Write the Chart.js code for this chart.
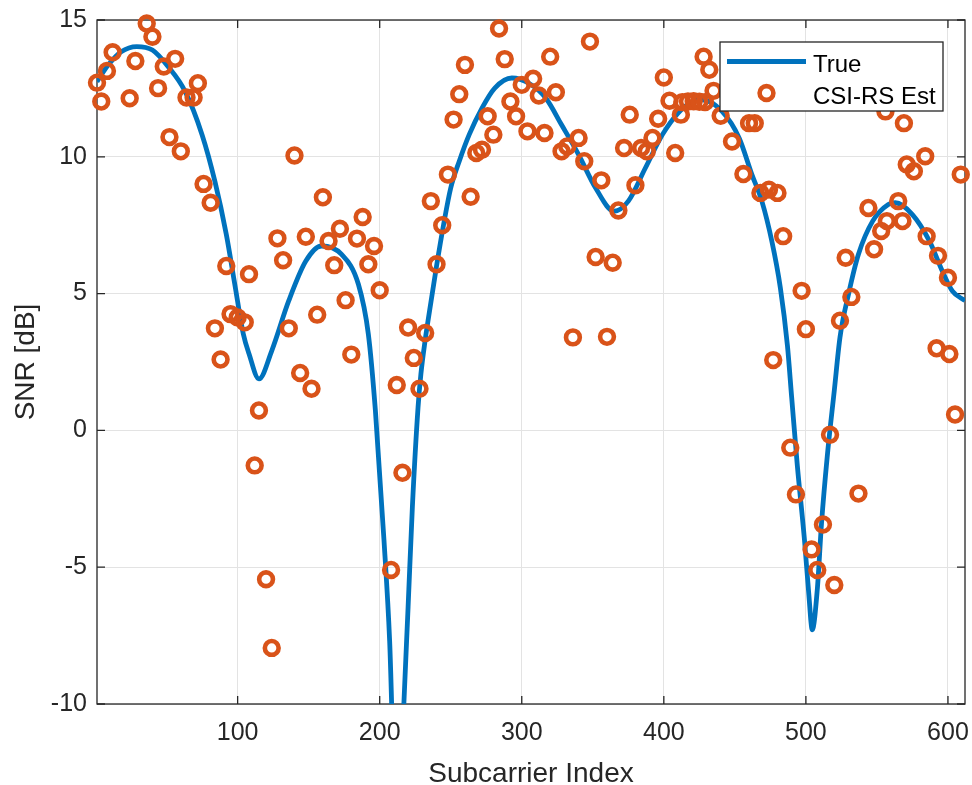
<!DOCTYPE html>
<html>
<head>
<meta charset="utf-8">
<title>SNR per subcarrier</title>
<script src="https://cdn.jsdelivr.net/npm/chart.js@4"></script>
<style>
    html, body { margin: 0; padding: 0; background: #ffffff; }
    #snr { display: block; }
</style>
</head>
<body>
<canvas id="snr" width="972" height="785"></canvas>
<script>
// true SNR curve
const subcarrier = [ 1, 9, 18, 29, 40, 51, 63, 75, 84, 92,
    98, 104, 108, 115, 124, 136, 148, 159, 173, 185,
    192, 197, 203, 207, 212.5, 217, 220, 223, 227, 229,
    232, 234, 240, 245, 250, 256, 263, 272, 281, 293,
    305, 317, 328, 340, 352, 365, 375, 387, 399, 410,
    420, 427, 441, 453, 462, 469, 476, 482, 487, 490,
    494, 499, 502, 504.5, 508, 511, 515, 520, 524, 530,
    537, 547, 558, 563, 575, 587, 596, 603, 612 ];
const trueSnr = [ 12.75, 13.36, 13.84, 14.03, 13.9, 13.3, 12.39, 10.8, 9.1, 7.17,
    5.34, 3.52, 2.8, 1.88, 2.91, 4.74, 6.19, 6.74, 6.44, 5.34,
    3.52, 0.7, -4.0, -7.7, -16, -10, -6.44, -2.8, 0.85, 2.06,
    3.3, 4.0, 6.0, 7.53, 8.86, 9.84, 10.81, 11.78, 12.51, 12.88,
    12.69, 12.14, 11.17, 10.08, 8.86, 8.01, 8.38, 9.59, 10.81, 11.6,
    12.02, 12.08, 11.66, 10.69, 9.35, 8.38, 6.92, 5.22, 3.1, 1.2,
    -1.3, -4.0, -5.95, -7.29, -5.83, -3.4, -0.97, 1.46, 3.4, 4.98,
    6.44, 7.65, 8.26, 8.32, 7.89, 6.92, 5.83, 5.10, 4.74 ];

// CSI-RS estimates
const csiRsSubcarrier = [ 1, 4, 8, 12, 24, 28, 36, 40, 44, 48,
    52, 56, 60, 64, 69, 72, 76, 81, 84, 88,
    92, 95, 100, 105, 108, 112, 115, 120, 124, 128,
    132, 136, 140, 144, 148, 152, 156, 160, 164, 168,
    172, 176, 180, 184, 188, 192, 196, 200, 208, 212,
    216, 220, 224, 228, 232, 236, 240, 244, 248, 252,
    256, 260, 264, 268, 272, 276, 280, 284, 288, 292,
    296, 300, 304, 308, 312, 316, 320, 324, 328, 332,
    336, 340, 344, 348, 352, 356, 360, 364, 368, 372,
    376, 380, 384, 388, 392, 396, 400, 404, 408, 412,
    413, 417, 421, 425, 429, 428, 432, 435, 440, 448,
    456, 460, 464, 468, 474, 477, 480, 484, 489, 493,
    497, 500, 504, 508, 512, 517, 520, 524, 528, 532,
    537, 544, 548, 553, 556, 557, 565, 568, 569, 571,
    576, 584, 585, 592, 593, 600, 601, 605, 609 ];
const csiRsSnr = [ 12.71, 12.02, 13.14, 13.82, 12.14, 13.5, 14.87, 14.39, 12.51, 13.3,
    10.72, 13.58, 10.2, 12.17, 12.17, 12.69, 9.01, 8.32, 3.73, 2.59,
    6.01, 4.25, 4.13, 3.95, 5.71, -1.28, 0.73, -5.44, -7.95, 7.02,
    6.22, 3.73, 10.05, 2.1, 7.08, 1.52, 4.23, 8.52, 6.92, 6.04,
    7.37, 4.76, 2.77, 7.01, 7.8, 6.07, 6.74, 5.12, -5.1, 1.66,
    -1.55, 3.76, 2.65, 1.52, 3.56, 8.38, 6.07, 7.5, 9.35, 11.36,
    12.29, 13.36, 8.54, 10.14, 10.26, 11.48, 10.81, 14.69, 13.57, 12.02,
    11.48, 12.63, 10.93, 12.85, 12.24, 10.87, 13.66, 12.36, 10.2, 10.38,
    3.4, 10.69, 9.84, 14.21, 6.34, 9.14, 3.42, 6.13, 8.04, 10.32,
    11.54, 8.96, 10.32, 10.2, 10.69, 11.39, 12.9, 12.05, 10.14, 11.54,
    12.0, 12.02, 12.03, 12.01, 12.0, 13.66, 13.18, 12.41, 11.5, 10.56,
    9.37, 11.23, 11.23, 8.68, 8.8, 2.57, 8.68, 7.1, -0.63, -2.34,
    5.1, 3.7, -4.35, -5.1, -3.44, -0.16, -5.65, 4.01, 6.31, 4.88,
    -2.31, 8.13, 6.62, 7.29, 11.66, 7.65, 8.38, 7.65, 11.23, 9.72,
    9.47, 10.02, 7.1, 3.0, 6.38, 5.58, 2.79, 0.58, 9.35 ];

const xTicks = [ 100, 200, 300, 400, 500, 600 ];
const yTicks = [ -10, -5, 0, 5, 10, 15 ];
const seriesLabels = [ 'True', 'CSI-RS Est' ];

const Colors = {
    line: '#0072BD',
    marker: '#D95319',
    axis: '#262626',
    grid: '#e3e3e3',
    paper: '#ffffff'
};
const Fonts = {
    family: '"Liberation Sans", Arial, Helvetica, sans-serif',
    tick: 25,
    title: 28,
    legend: 24
};

// MATLAB style box with inward ticks on all four sides
const AxesBox = {
    id: 'axesBox',
    beforeDatasetsDraw( chart ) {
        const
            { ctx, chartArea: a, scales: { x, y } } = chart,
            len = 8;
        ctx.save();
        ctx.strokeStyle = Colors.axis;
        ctx.lineWidth = 1.3;
        ctx.strokeRect( a.left, a.top, a.right - a.left, a.bottom - a.top );
        ctx.beginPath();
        xTicks.forEach( v => {
            const px = x.getPixelForValue( v );
            ctx.moveTo( px, a.bottom ); ctx.lineTo( px, a.bottom - len );
            ctx.moveTo( px, a.top ); ctx.lineTo( px, a.top + len );
        } );
        yTicks.forEach( v => {
            const py = y.getPixelForValue( v );
            ctx.moveTo( a.left, py ); ctx.lineTo( a.left + len, py );
            ctx.moveTo( a.right, py ); ctx.lineTo( a.right - len, py );
        } );
        ctx.stroke();
        ctx.restore();
    }
};

// legend drawn inside the axes, on top of the markers
const BoxLegend = {
    id: 'boxLegend',
    afterDatasetsDraw( chart ) {
        const
            { ctx, chartArea: a } = chart,
            sets = chart.data.datasets,
            w = 223, h = 69,
            x = a.right - 22 - w,
            y = a.top + 22;
        ctx.save();
        ctx.fillStyle = Colors.paper;
        ctx.fillRect( x, y, w, h );
        ctx.strokeStyle = Colors.axis;
        ctx.lineWidth = 1.3;
        ctx.strokeRect( x, y, w, h );

        ctx.strokeStyle = sets[0].borderColor;
        ctx.lineWidth = sets[0].borderWidth;
        ctx.beginPath();
        ctx.moveTo( x + 7, y + 19.5 );
        ctx.lineTo( x + 86, y + 19.5 );
        ctx.stroke();

        ctx.strokeStyle = sets[1].pointBorderColor;
        ctx.lineWidth = sets[1].pointBorderWidth;
        ctx.beginPath();
        ctx.arc( x + 46.5, y + 51, sets[1].pointRadius, 0, Math.PI * 2 );
        ctx.stroke();

        ctx.fillStyle = '#000000';
        ctx.font = Fonts.legend + 'px ' + Fonts.family;
        ctx.textBaseline = 'alphabetic';
        ctx.textAlign = 'left';
        ctx.fillText( sets[0].label, x + 93, y + 30 );
        ctx.fillText( sets[1].label, x + 93, y + 61.6 );
        ctx.restore();
    }
};

const tickFont = { family: Fonts.family, size: Fonts.tick };
const titleFont = { family: Fonts.family, size: Fonts.title, lineHeight: 0.75 };

new Chart( document.getElementById( 'snr' ), {
    type: 'scatter',
    data: {
        datasets: [
            {
                type: 'line',
                label: seriesLabels[0],
                data: subcarrier.map( ( s, i ) => ( { x: s, y: trueSnr[i] } ) ),
                borderColor: Colors.line,
                borderWidth: 4.8,
                pointRadius: 0,
                cubicInterpolationMode: 'monotone',
                fill: false,
                clip: 0,
                order: 2
            },
            {
                label: seriesLabels[1],
                data: csiRsSubcarrier.map( ( s, i ) => ( { x: s, y: csiRsSnr[i] } ) ),
                pointStyle: 'circle',
                pointRadius: 6.9,
                pointBorderWidth: 4.6,
                pointBorderColor: Colors.marker,
                pointBackgroundColor: 'rgba( 0, 0, 0, 0 )',
                borderColor: Colors.marker,
                backgroundColor: 'rgba( 0, 0, 0, 0 )',
                clip: false,
                order: 1
            }
        ]
    },
    options: {
        responsive: false,
        animation: false,
        devicePixelRatio: 1,
        events: [],
        layout: { autoPadding: false, padding: { top: 20, right: 7, bottom: 0, left: 0 } },
        plugins: {
            legend: { display: false },
            tooltip: { enabled: false }
        },
        scales: {
            x: {
                type: 'linear',
                min: 1,
                max: 612,
                afterBuildTicks( scale ) { scale.ticks = xTicks.map( value => ( { value } ) ); },
                afterFit( scale ) {
                    scale.height = 81;
                    scale.paddingLeft = 0;
                    scale.paddingRight = 0;
                },
                grid: { color: Colors.grid, lineWidth: 1, drawTicks: false },
                border: { display: false },
                ticks: { color: Colors.axis, font: tickFont, padding: 14.5, maxRotation: 0, autoSkip: false },
                title: {
                    display: true,
                    text: 'Subcarrier Index',
                    color: Colors.axis,
                    font: titleFont,
                    padding: { top: 0, bottom: 0 }
                }
            },
            y: {
                type: 'linear',
                min: -10,
                max: 15,
                afterBuildTicks( scale ) { scale.ticks = yTicks.map( value => ( { value } ) ); },
                afterFit( scale ) {
                    scale.width = 97;
                    scale.paddingTop = 0;
                    scale.paddingBottom = 0;
                },
                grid: { color: Colors.grid, lineWidth: 1, drawTicks: false },
                border: { display: false },
                ticks: { color: Colors.axis, font: tickFont, padding: 10, autoSkip: false },
                title: {
                    display: true,
                    text: 'SNR [dB]',
                    color: Colors.axis,
                    font: titleFont,
                    padding: { top: 15.5, bottom: 0 }
                }
            }
        }
    },
    plugins: [ AxesBox, BoxLegend ]
} );
</script>
</body>
</html>
